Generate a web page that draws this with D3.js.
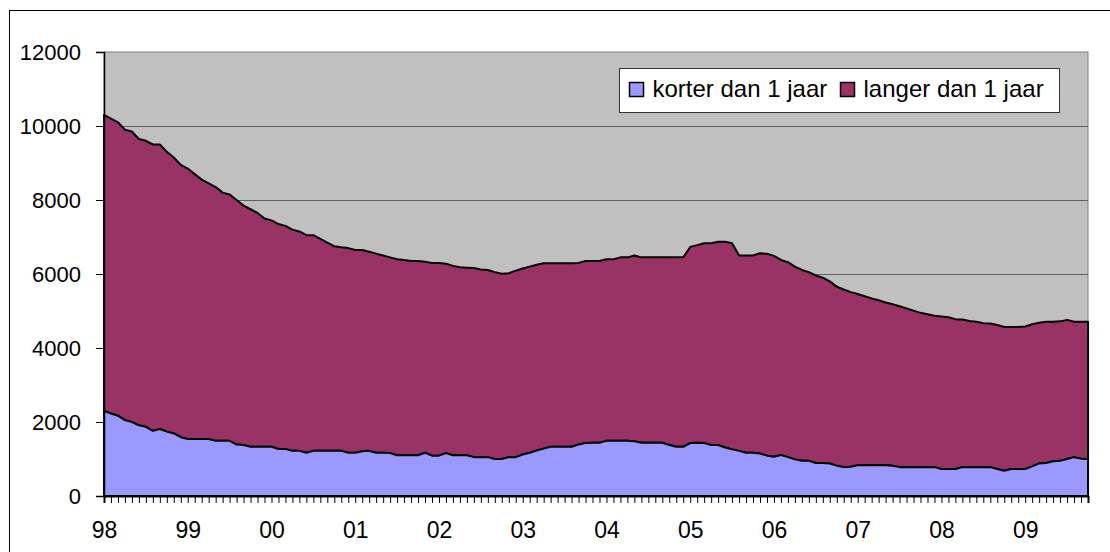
<!DOCTYPE html>
<html>
<head>
<meta charset="utf-8">
<script src="https://cdn.jsdelivr.net/npm/d3@7"></script>
<style>
  body { margin: 0; background: #fff; }
  text { font-family: "Liberation Sans", Arial, sans-serif; fill: #000; }
</style>
</head>
<body>
<svg id="chart"></svg>
<script>
// Monthly values, Jan 1998 .. Oct 2009
var korter = [
  2300,2230,2170,2050,2000,1910,1870,1760,1810,1740,1690,1590,  // 98
  1540,1540,1540,1540,1490,1490,1490,1390,1380,1330,1330,1330,  // 99
  1330,1270,1270,1220,1220,1170,1220,1220,1220,1220,1220,1170,  // 00
  1170,1210,1220,1170,1170,1160,1100,1100,1100,1100,1170,1090,  // 01
  1090,1160,1100,1100,1100,1050,1050,1050,1000,1000,1050,1050,  // 02
  1120,1170,1230,1280,1330,1330,1330,1330,1390,1430,1440,1440,  // 03
  1490,1490,1490,1490,1480,1440,1440,1440,1440,1380,1330,1330,  // 04
  1430,1440,1430,1380,1380,1310,1260,1220,1170,1170,1150,1090,  // 05
  1060,1110,1050,990,950,950,890,890,880,820,780,790,           // 06
  830,830,830,830,830,820,780,780,780,780,780,780,              // 07
  730,730,730,780,780,780,780,780,730,680,730,730,              // 08
  730,800,880,890,940,950,1000,1050,1010,1000                   // 09
];
var langer = [
  8000,7970,7930,7850,7850,7740,7730,7740,7690,7560,7460,7360,  // 98
  7310,7160,7010,6910,6860,6710,6660,6610,6470,6420,6320,6170,  // 99
  6120,6080,6030,5980,5930,5880,5830,5730,5630,5530,5500,5530,  // 00
  5480,5440,5380,5380,5330,5290,5300,5280,5250,5250,5160,5210,  // 01
  5210,5120,5120,5080,5070,5110,5070,5060,5050,5010,4970,5040,  // 02
  5030,5030,5020,5010,4960,4960,4960,4960,4910,4920,4910,4910,  // 03
  4910,4910,4960,4960,5020,5010,5010,5010,5010,5070,5120,5120,  // 04
  5300,5340,5400,5450,5490,5560,5570,5280,5330,5330,5410,5460,  // 05
  5430,5270,5270,5210,5160,5100,5070,5010,4920,4840,4800,4720,  // 06
  4630,4570,4510,4460,4400,4360,4350,4290,4230,4170,4130,4090,  // 07
  4120,4100,4050,3990,3950,3930,3890,3880,3890,3890,3840,3840,  // 08
  3850,3840,3800,3820,3770,3770,3760,3660,3700,3710             // 09
];
var seriesNames = ["korter dan 1 jaar", "langer dan 1 jaar"];
var colors = ["#9999FF", "#993366"];
var yTicks = [0, 2000, 4000, 6000, 8000, 10000, 12000];
var yearLabels = ["98","99","00","01","02","03","04","05","06","07","08","09"];

var width = 1110, height = 552;
var plotLeft = 104, plotRight = 1088, plotTop = 52, plotBottom = 496;

var svg = d3.select("#chart")
    .attr("width", width)
    .attr("height", height);

// outer chart frame (runs off the page on right and bottom)
svg.append("rect")
    .attr("x", 9.5).attr("y", 10.5)
    .attr("width", 1120).attr("height", 560)
    .attr("fill", "#fff")
    .attr("stroke", "#000");

// month categories
var months = d3.timeMonth.range(new Date(1998, 0, 1), new Date(2009, 10, 1))
    .map(d3.timeFormat("%Y-%m"));

var x = d3.scalePoint().domain(months).range([plotLeft, plotRight]).padding(0);
var y = d3.scaleLinear().domain([0, 12000]).range([plotBottom, plotTop]);

// plot area background
svg.append("rect")
    .attr("x", plotLeft).attr("y", plotTop)
    .attr("width", plotRight - plotLeft).attr("height", plotBottom - plotTop)
    .attr("fill", "#C0C0C0")
    .attr("stroke", "#808080");

// gridlines
svg.append("g").selectAll("line")
    .data(yTicks.filter(function(t) { return t > 0 && t < 12000; }))
    .enter().append("line")
    .attr("x1", plotLeft).attr("x2", plotRight)
    .attr("y1", function(d) { return Math.round(y(d)) + 0.5; })
    .attr("y2", function(d) { return Math.round(y(d)) + 0.5; })
    .attr("stroke", "#5f5f5f")
    .attr("stroke-width", 1);

// stacked areas
var table = months.map(function(m, i) {
    return { month: m, korter: korter[i], langer: langer[i] };
});
var stack = d3.stack().keys(["korter", "langer"]);
var layers = stack(table);

var area = d3.area()
    .x(function(d) { return x(d.data.month); })
    .y0(function(d) { return y(d[0]); })
    .y1(function(d) { return y(d[1]); });

svg.append("g").selectAll("path")
    .data(layers.slice().reverse())
    .enter().append("path")
    .attr("d", area)
    .attr("fill", function(d) { return colors[d.index]; })
    .attr("stroke", "#000")
    .attr("stroke-width", 2)
    .attr("stroke-linejoin", "round");

// y axis
var yAxis = svg.append("g")
    .attr("transform", "translate(" + plotLeft + ",0)")
    .call(d3.axisLeft(y).tickValues(yTicks).tickSize(8).tickPadding(15).tickFormat(d3.format("d")));
yAxis.select(".domain").attr("stroke", "#000").attr("stroke-width", 1.5);
yAxis.selectAll(".tick line").attr("stroke", "#000");
yAxis.selectAll("text")
    .attr("font-size", "22px")
    .attr("font-family", "Liberation Sans, Arial, sans-serif");

// x axis: monthly tick marks
var xTicks = svg.append("g")
    .attr("transform", "translate(0," + plotBottom + ")")
    .call(d3.axisBottom(x).tickValues(months).tickSize(7).tickFormat(""));
xTicks.select(".domain").attr("stroke", "#000").attr("stroke-width", 2);
xTicks.selectAll(".tick line").attr("stroke", "#000");

// year labels
var yearMonths = months.filter(function(m) { return m.slice(5) === "01"; });
var xLabels = svg.append("g")
    .attr("transform", "translate(0," + plotBottom + ")")
    .call(d3.axisBottom(x).tickValues(yearMonths).tickSize(0).tickPadding(26)
        .tickFormat(function(d, i) { return yearLabels[i]; }));
xLabels.select(".domain").remove();
xLabels.selectAll("text")
    .attr("font-size", "23px")
    .attr("font-family", "Liberation Sans, Arial, sans-serif");

// legend
var legend = svg.append("g");
legend.append("rect")
    .attr("x", 619.5).attr("y", 68.5)
    .attr("width", 440).attr("height", 44)
    .attr("fill", "#fff")
    .attr("stroke", "#333");
var legendX = [629.5, 840.5];
seriesNames.forEach(function(name, i) {
    legend.append("rect")
        .attr("x", legendX[i]).attr("y", 82.5)
        .attr("width", 14).attr("height", 14)
        .attr("fill", colors[i])
        .attr("stroke", "#000")
        .attr("stroke-width", 1.5);
    legend.append("text")
        .attr("x", legendX[i] + 23).attr("y", 97)
        .attr("font-size", "24px")
        .text(name);
});
</script>
</body>
</html>
